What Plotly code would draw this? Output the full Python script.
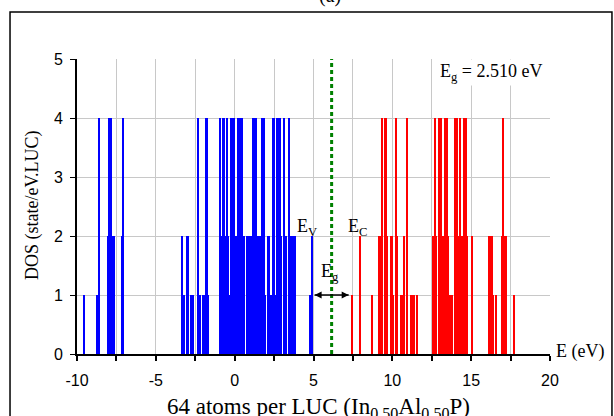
import plotly.graph_objects as go

# Valence band states (blue): energies (eV) and DOS heights
val_E = [-9.54, -8.68, -8.57, -8.00, -7.93, -7.84, -7.75, -7.62, -7.10, -7.05,
         -3.32, -3.18, -2.97, -2.72, -2.62, -2.30, -2.22, -1.97, -1.85, -1.78, -1.68,
         -0.92, -0.80, -0.70, -0.60, -0.49, -0.40, -0.33, -0.21, -0.12, -0.06,
         0.02, 0.10, 0.25, 0.36, 0.45, 0.55, 0.62, 0.78, 0.88, 0.92, 1.05,
         1.20, 1.35, 1.45, 1.58, 1.73, 1.85, 1.95, 2.17, 2.35, 2.49, 2.58,
         2.70, 2.85, 2.97, 3.13, 3.25, 3.45, 3.61, 3.76, 3.85, 4.80, 4.92]
val_D = [1, 1, 4, 2, 4, 4, 2, 2, 2, 4,
         2, 1, 2, 1, 1, 4, 1, 1, 1, 4, 1,
         4, 2, 4, 2, 4, 2, 1, 4, 1, 4,
         1, 2, 4, 4, 4, 2, 2, 2, 1, 2, 2,
         4, 4, 2, 2, 4, 4, 1, 2, 1, 4, 1,
         4, 4, 2, 4, 2, 4, 2, 2, 2, 1, 2]

# Conduction band states (red)
con_E = [7.44, 7.96, 8.72, 9.20, 9.28, 9.37, 9.58, 9.65, 9.97, 10.05,
         10.25, 10.30, 10.60, 10.77, 10.96, 11.19, 11.30, 11.36, 11.57,
         12.62, 12.72, 12.80, 12.98, 13.06, 13.10, 13.20, 13.30, 13.38, 13.45,
         13.55, 13.65, 13.76, 14.00, 14.08, 14.15, 14.30, 14.40, 14.60, 14.68,
         14.75, 15.07, 16.17, 16.30, 16.40, 16.60, 16.97, 17.02, 17.20, 17.75]
con_D = [1, 2, 1, 2, 2, 4, 4, 2, 2, 1,
         4, 2, 1, 2, 4, 1, 1, 1, 1,
         2, 4, 2, 4, 2, 4, 2, 2, 4, 4,
         2, 1, 1, 4, 4, 2, 4, 2, 4, 4,
         2, 2, 2, 2, 1, 1, 2, 4, 2, 1]

E_F = 6.15
E_V = 4.92
E_C = 7.43
E_g_text = "E<sub>g</sub> = 2.510 eV"

x_range = [-10, 20]
y_range = [0, 5]
x_tickvals = [-10, -5, 0, 5, 10, 15, 20]
x_ticktext = ["-10", "-5", "0", "5", "10", "15", "20"]

serif = "Liberation Serif"
sans = "Liberation Sans"
grid = "#c8c8c8"

fig = go.Figure()
fig.add_trace(go.Bar(x=val_E, y=val_D, width=0.12, marker=dict(color="#0000ff", line=dict(width=0)),
                     showlegend=False))
fig.add_trace(go.Bar(x=con_E, y=con_D, width=0.12, marker=dict(color="#ff0000", line=dict(width=0)),
                     showlegend=False))
fig.add_trace(go.Scatter(x=[E_F, E_F], y=y_range, mode="lines",
                         line=dict(color="#008000", width=3, dash="4px,3px"), showlegend=False))
# band-gap double arrow
fig.add_trace(go.Scatter(x=[E_V + 0.15, E_C - 0.2], y=[1, 1], mode="lines+markers",
                         line=dict(color="black", width=1.5),
                         marker=dict(symbol=["arrow-left", "arrow-right"], size=7, color="black",
                                     line=dict(width=0)),
                         showlegend=False))

fig.update_layout(
    width=614, height=416,
    margin=dict(l=77, r=64, t=59, b=62),
    paper_bgcolor="white", plot_bgcolor="white",
    barmode="overlay", bargap=0,
    font=dict(family=sans, size=16, color="black"),
    xaxis=dict(range=x_range, tickvals=x_tickvals, ticktext=x_ticktext,
               showgrid=True, gridcolor=grid, gridwidth=1, zeroline=False,
               showline=True, linecolor="black", linewidth=2,
               ticks="outside", ticklen=5, tickwidth=2, tickcolor="black",
               ticklabelstandoff=6,
               minor=dict(dtick=2.5, tick0=0, ticks="outside", ticklen=5, tickwidth=2,
                          tickcolor="black", showgrid=True, gridcolor=grid, gridwidth=1),
               tickfont=dict(family=sans, size=16)),
    yaxis=dict(range=y_range, dtick=1,
               showgrid=True, gridcolor=grid, gridwidth=1, zeroline=False,
               showline=True, linecolor="black", linewidth=2,
               ticks="outside", ticklen=5, tickwidth=1, tickcolor="black",
               ticklabelstandoff=4,
               tickfont=dict(family=sans, size=16)),
)

# outer frame
fig.add_shape(type="rect", xref="paper", yref="paper", x0=-0.1416, x1=1.131, y0=-0.26, y1=1.159,
              line=dict(color="black", width=1.5), fillcolor="rgba(0,0,0,0)", layer="below")

ann = [
    dict(text="(a)", x=0.535, y=1.17, xref="paper", yref="paper", yanchor="bottom",
         font=dict(family=serif, size=20)),
    dict(text="E<sub>F</sub>", x=6.68, y=5.29, xref="x", yref="y", font=dict(family=serif, size=19)),
    dict(text="E<sub>V</sub>", x=4.58, y=2.15, xref="x", yref="y", font=dict(family=serif, size=18)),
    dict(text="E<sub>C</sub>", x=7.82, y=2.15, xref="x", yref="y", font=dict(family=serif, size=18)),
    dict(text="E<sub>g</sub>", x=6.04, y=1.38, xref="x", yref="y", font=dict(family=serif, size=18)),
    dict(text=E_g_text, x=0.875, y=0.955, xref="paper", yref="paper", bgcolor="white",
         font=dict(family=serif, size=18)),
    dict(text="E (eV)", x=1.063, y=0.007, xref="paper", yref="paper", font=dict(family=serif, size=18)),
    dict(text="64 atoms per LUC (In<sub>0.50</sub>Al<sub>0.50</sub>P)", x=0.51, y=-0.183,
         xref="paper", yref="paper", font=dict(family=serif, size=23)),
    dict(text="DOS (state/eV.LUC)", x=-0.095, y=0.505, xref="paper", yref="paper", textangle=-90,
         font=dict(family=serif, size=18)),
]
for a in ann:
    a.setdefault("showarrow", False)
    a.setdefault("xanchor", "center")
    a.setdefault("yanchor", "middle")
    fig.add_annotation(**a)

fig.write_html("out.html")
